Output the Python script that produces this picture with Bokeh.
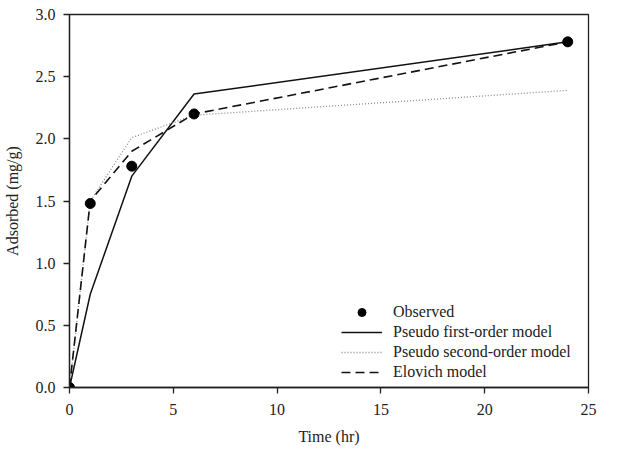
from bokeh.plotting import figure
from bokeh.embed import file_html
from bokeh.resources import INLINE
from bokeh.models import Range1d, Legend, LegendItem, FixedTicker, Title

# Data
time_hr = [0, 1, 3, 6, 24]
observed = [0.0, 1.48, 1.78, 2.20, 2.78]
pseudo_first = [0.0, 0.75, 1.70, 2.36, 2.78]
pseudo_second = [0.0, 1.50, 2.01, 2.19, 2.39]
elovich = [0.0, 1.50, 1.90, 2.20, 2.78]

x_ticks = [0, 5, 10, 15, 20, 25]
y_ticks = [0.0, 0.5, 1.0, 1.5, 2.0, 2.5, 3.0]

FONT = "Liberation Serif"
TXT = "#222222"

p = figure(width=618, height=454, output_backend="svg", toolbar_location=None,
           x_range=Range1d(0, 25), y_range=Range1d(0, 3.0),
           min_border_left=69, min_border_right=30, min_border_top=14, min_border_bottom=67)
p.xgrid.visible = False
p.ygrid.visible = False
p.outline_line_color = "#222222"
p.outline_line_width = 1.3
p.background_fill_color = "white"
p.border_fill_color = "white"

for ax in (p.xaxis[0], p.yaxis[0]):
    ax.axis_line_color = "#222222"
    ax.axis_line_width = 1.3
    ax.major_tick_line_color = "#222222"
    ax.major_tick_line_width = 1.3
    ax.major_tick_in = 0
    ax.major_tick_out = 6
    ax.minor_tick_line_color = None
    ax.major_label_text_font = FONT
    ax.major_label_text_font_size = "16px"
    ax.major_label_text_color = TXT
    ax.axis_label_text_font = FONT
    ax.axis_label_text_font_size = "16px"
    ax.axis_label_text_font_style = "normal"
    ax.axis_label_text_color = TXT

p.xaxis[0].ticker = FixedTicker(ticks=x_ticks)
p.yaxis[0].ticker = FixedTicker(ticks=y_ticks)
p.yaxis[0].major_label_overrides = {t: f"{t:.1f}" for t in y_ticks}
p.yaxis[0].axis_label = "Adsorbed (mg/g)"
p.xaxis[0].major_label_standoff = 10
p.yaxis[0].major_label_standoff = 8
p.yaxis[0].axis_label_standoff = 12

# x-axis title as a title panel below the axis
x_title = Title(text="Time (hr)", align="center", text_font=FONT, text_font_size="16px",
                text_font_style="normal", text_color=TXT, standoff=17)
p.add_layout(x_title, "below")

r_first = p.line(time_hr, pseudo_first, line_color="#111111", line_width=1.5)
r_second = p.line(time_hr, pseudo_second, line_color="#8a8a8a", line_width=1.3, line_dash="1 2")
r_elo = p.line(time_hr, elovich, line_color="#111111", line_width=1.6, line_dash="9 5")
r_obs = p.scatter(time_hr, observed, marker="circle", size=10, fill_color="black", line_color="black")

legend = Legend(items=[
    LegendItem(label="Observed", renderers=[r_obs]),
    LegendItem(label="Pseudo first-order model", renderers=[r_first]),
    LegendItem(label="Pseudo second-order model", renderers=[r_second]),
    LegendItem(label="Elovich model", renderers=[r_elo]),
], location=(272, 5))
legend.border_line_color = None
legend.background_fill_alpha = 0
legend.padding = 0
legend.margin = 0
legend.spacing = 0
legend.glyph_width = 41
legend.glyph_height = 20
legend.label_height = 20
legend.label_standoff = 11
legend.label_text_font = FONT
legend.label_text_font_size = "16px"
legend.label_text_color = TXT
p.add_layout(legend, "center")

open("out.html", "w").write(file_html(p, INLINE))
